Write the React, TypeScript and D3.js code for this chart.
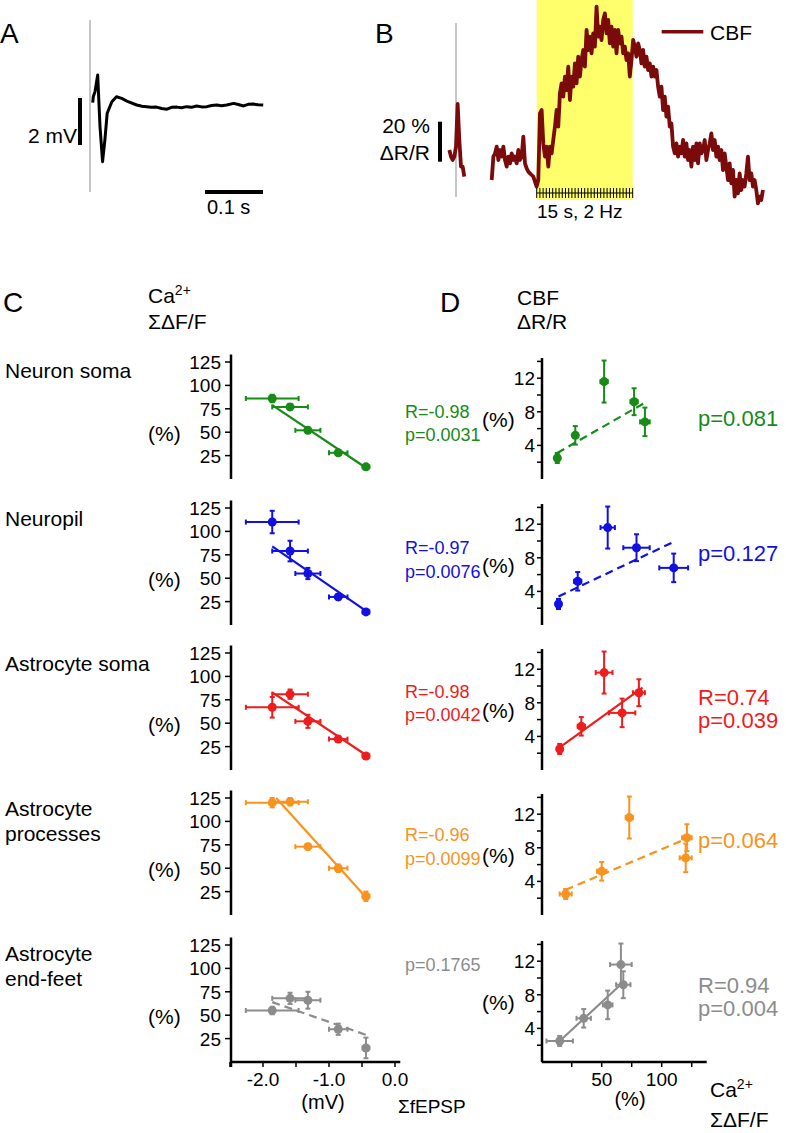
import React from "react";
import * as d3 from "d3";

const W = 786;
const H = 1133;
const FONT = "'Liberation Sans', Arial, Helvetica, sans-serif";

// ---- panel A: fEPSP trace (ms, mV)
const aTime = [0, 1, 4, 8.6, 10, 12.6, 17, 21, 25, 33, 41, 50, 61, 76, 85, 93, 101, 110, 119, 128, 136, 145, 153, 162, 170, 179, 188, 197, 205, 214, 222, 231, 243, 251, 260, 268, 277, 285, 294];
const aVolt = [0.1, 0.35, 0.57, 1.28, 0.5, -0.92, -2.41, -1.49, -0.35, 0.14, 0.35, 0.28, 0.14, 0.0, -0.05, -0.07, -0.1, -0.09, -0.15, -0.18, -0.1, -0.09, -0.12, -0.07, -0.1, -0.04, -0.08, -0.07, -0.02, 0.0, -0.03, 0.0, 0.07, 0.02, -0.04, 0.03, 0.04, 0.01, 0.0];

// ---- panel B: CBF trace (% dR/R), sampled every 0.26 s, two segments
const bDt = 0.26;
const bSeg1Start = -13.65;
const bSeg1 = [15, 11.7, 10, 11.7, 16.7, 38, 20, 6.7, 6.7, 1.7];
const bSeg2Start = -7.03;
const bSeg2 = [0, 11.7, 13.3, 16.7, 10, 15, 11.7, 16.7, 10, 6.7, 11.7, 8.3, 13.3, 10, 11.7, 8.3, 15, 10, 11.7, 21.7,
  8.3, 5.8, 4.2, 3.3, 2.5, 1.7, -0.8, -3.3, 0, 33.3, 35, 18.3, 11.7, 16.7, 6.7, 16.7, 13.3, 20, 26.7, 35,
  26.7, 43.3, 48.3, 41.7, 51.7, 45, 56.7, 40, 51.7, 46.7, 58.3, 48.3, 61.7, 51.7, 60, 65, 56.7, 75, 65, 71.7,
  63.3, 73.3, 66.7, 86.7, 71.7, 76.7, 70, 80, 83.3, 73.3, 80, 68.3, 76.7, 66.7, 75, 63.3, 75, 68.3, 71.7, 63.3,
  66.7, 60, 63.3, 51.7, 60, 70, 66.7, 61.7, 68.3, 65, 58.3, 65, 56.7, 61.7, 55, 58.3, 51.7, 56.7, 51.7, 55,
  46.7, 41.7, 46.7, 35, 41.7, 31.7, 36.7, 26.7, 28.3, 16.7, 13.3, 18.3, 11.7, 16.7, 13.3, 20, 11.7, 18.3, 10, 15,
  6.7, 16.7, 10, 18.3, 8.3, 18.3, 13.3, 15, 20, 10, 15, 18.3, 23.3, 15, 20, 11.7, 16.7, 10, 15, 5,
  13.3, 6.7, 0, 8.3, -1.7, 5, -8.3, 0, -6.7, 3.3, -5, 0, -3.3, 3.3, 11.7, 0, 3.3, -3.3, 0, -5,
  -11.7, -8.3, -10, -5];
const stimDuration = 15; // s
const stimRate = 2; // Hz

// ---- panels C/D
const rowNames = [["Neuron soma"], ["Neuropil"], ["Astrocyte soma"], ["Astrocyte", "processes"], ["Astrocyte", "end-feet"]];
const rowColors = ["#178a17", "#1010e0", "#ee1c1c", "#f7931e", "#8c8c8c"];

// shared per stimulation point
const fepsp = [-1.86, -1.59, -1.32, -0.86, -0.44];
const fepspErr = [0.4, 0.27, 0.19, 0.14, 0.05];
const cbf = [6.8, 9.2, 11.6, 5.2, 2.5];
const cbfErr = [1.7, 1.6, 2.5, 1.1, 0.6];

// Ca2+ sum dF/F (%) per compartment
const caNeuronSoma = [86, 77, 52, 28, 13];
const caNeuronSomaErr = [4, 3, 3, 2, 1];
const caNeuropil = [110, 79, 55, 30, 14];
const caNeuropilErr = [12, 11, 6, 3, 1.5];
const caAstroSoma = [67, 81, 52, 33, 15];
const caAstroSomaErr = [11, 5, 7, 3, 2];
const caAstroProc = [120, 121, 73, 50, 20];
const caAstroProcErr = [5, 4, 3, 4, 5];
const caEndFeet = [55, 68, 66, 35, 15];
const caEndFeetErr = [4, 6, 9, 6, 11];

// fitted lines: [x0, y0, x1, y1]
const fitC = [[-1.86, 79, -0.44, 12], [-1.86, 84, -0.44, 15], [-1.86, 83, -0.44, 16], [-1.8, 125, -0.44, 19], [-1.86, 64, -0.44, 29]];
const fitCDashed = [false, false, false, false, true];
const fitD = [[13, 3.1, 85, 9.0], [14, 3.4, 110, 9.9], [15, 2.7, 84, 9.8], [20, 3.0, 121, 9.1], [15, 2.5, 68, 9.5]];
const fitDDashed = [true, true, false, true, false];

const statsC = [["R=-0.98", "p=0.0031"], ["R=-0.97", "p=0.0076"], ["R=-0.98", "p=0.0042"], ["R=-0.96", "p=0.0099"], ["p=0.1765"]];
const statsD = [["p=0.081"], ["p=0.127"], ["R=0.74", "p=0.039"], ["p=0.064"], ["R=0.94", "p=0.004"]];

const caTicks = [25, 50, 75, 100, 125];
const cbfTicks = [2, 4, 6, 8, 10, 12, 14];
const cbfLabels = [4, 8, 12];
const mvTicks = [-2.5, -2, -1.5, -1, -0.5, 0];
const mvLabels = [-2, -1, 0];
const caXTicks = [25, 50, 75, 100, 125];
const caXLabels = [50, 100];

// layout
const rowBase = [479, 625, 770, 915, 1062];
const statYC = [[418, 441], [554, 578], [698, 721], [841, 865], [971]];
const statYD = [[426], [561], [705, 728], [848], [993, 1016]];
const rowLabelY = [[378], [526], [671], [816, 841], [961, 986]];

const xA = d3.scaleLinear().domain([0, 100]).range([92.7, 150.7]);
const yA = d3.scaleLinear().domain([0, 2]).range([105, 58]);
const xB = d3.scaleLinear().domain([0, stimDuration]).range([536.7, 632.7]);
const yB = d3.scaleLinear().domain([0, 20]).range([180, 140]);
const xC = d3.scaleLinear().domain([-2, 0]).range([263, 395]);
const xD = d3.scaleLinear().domain([0, 100]).range([541.7, 661.7]);
const yCFor = (b: number) => d3.scaleLinear().domain([0, 125]).range([b, b - 117]);
const yDFor = (b: number) => d3.scaleLinear().domain([0, 14]).range([b, b - 117.6]);

function ErrPoint({ x, y, x0, x1, y0, y1, color }: any) {
  const cap = 2.5;
  return (
    <g stroke={color} strokeWidth={2} fill="none">
      <line x1={x0} x2={x1} y1={y} y2={y} />
      <line x1={x0} x2={x0} y1={y - cap} y2={y + cap} />
      <line x1={x1} x2={x1} y1={y - cap} y2={y + cap} />
      <line x1={x} x2={x} y1={y0} y2={y1} />
      <line x1={x - cap} x2={x + cap} y1={y0} y2={y0} />
      <line x1={x - cap} x2={x + cap} y1={y1} y2={y1} />
      <circle cx={x} cy={y} r={4.5} fill={color} stroke="none" />
    </g>
  );
}

export default function App() {
  const caRows = [
    [caNeuronSoma, caNeuronSomaErr],
    [caNeuropil, caNeuropilErr],
    [caAstroSoma, caAstroSomaErr],
    [caAstroProc, caAstroProcErr],
    [caEndFeet, caEndFeetErr],
  ];

  const aLine = d3.line<number>().x((_, i) => xA(aTime[i])).y((v) => yA(v));
  const bLine = (start: number) => d3.line<number>().x((_, i) => xB(start + i * bDt)).y((v) => yB(v));
  const stimTicks = d3.range(0, stimDuration * stimRate + 1).map((k) => k / stimRate);

  const txt = { fontFamily: FONT, fill: "#000" };

  return (
    <svg width={W} height={H} style={{ position: "absolute", left: 0, top: 0, background: "#fff" }}>
      <rect width={W} height={H} fill="#fff" />
      {/* Panel letters */}
      <text x={0} y={43} fontSize={28} {...txt}>A</text>
      <text x={375} y={43} fontSize={28} {...txt}>B</text>
      <text x={3} y={312} fontSize={28} {...txt}>C</text>
      <text x={440} y={312} fontSize={28} {...txt}>D</text>

      {/* Panel A */}
      <line x1={90} x2={90} y1={20} y2={192} stroke="#c6c6c6" strokeWidth={2} />
      <path d={aLine(aVolt) || ""} fill="none" stroke="#000" strokeWidth={3} strokeLinejoin="round" />
      <line x1={80} x2={80} y1={98} y2={98 + (yA(0) - yA(2))} stroke="#000" strokeWidth={4} />
      <text x={77} y={143} fontSize={21} textAnchor="end" {...txt}>2 mV</text>
      <line x1={205} x2={205 + xA(100) - xA(0)} y1={192} y2={192} stroke="#000" strokeWidth={4} />
      <text x={207} y={213.5} fontSize={20} {...txt}>0.1 s</text>

      {/* Panel B */}
      <rect x={xB(0)} y={0} width={xB(stimDuration) - xB(0)} height={200} fill="#ffff6b" />
      <line x1={456} x2={456} y1={23} y2={197} stroke="#c6c6c6" strokeWidth={2} />
      <path d={bLine(bSeg1Start)(bSeg1) || ""} fill="none" stroke="#7b0a0a" strokeWidth={3.8} strokeLinejoin="round" />
      <path d={bLine(bSeg2Start)(bSeg2) || ""} fill="none" stroke="#7b0a0a" strokeWidth={3.8} strokeLinejoin="round" />
      <line x1={xB(0)} x2={xB(stimDuration)} y1={193} y2={193} stroke="#000" strokeWidth={1} />
      {stimTicks.map((t) => (
        <line key={t} x1={xB(t)} x2={xB(t)} y1={188} y2={198} stroke="#000" strokeWidth={1} />
      ))}
      <text x={537} y={218} fontSize={19} {...txt}>15 s, 2 Hz</text>
      <line x1={440} x2={440} y1={121.7} y2={121.7 + (yB(0) - yB(20))} stroke="#000" strokeWidth={4} />
      <text x={430} y={133} fontSize={21} textAnchor="end" {...txt}>20 %</text>
      <text x={430} y={160} fontSize={21} textAnchor="end" {...txt}>ΔR/R</text>
      <line x1={661.7} x2={703.3} y1={31.7} y2={31.7} stroke="#7b0a0a" strokeWidth={3.5} />
      <text x={710} y={40} fontSize={21} {...txt}>CBF</text>

      {/* Headers */}
      <text x={148} y={303} fontSize={21} {...txt}>Ca<tspan dy={-8} fontSize={14}>2+</tspan></text>
      <text x={148} y={329} fontSize={21} {...txt}>ΣΔF/F</text>
      <text x={517} y={305} fontSize={21} {...txt}>CBF</text>
      <text x={517} y={329} fontSize={21} {...txt}>ΔR/R</text>

      {rowNames.map((names, r) => {
        const base = rowBase[r];
        const yC = yCFor(base);
        const yD = yDFor(base);
        const color = rowColors[r];
        const [ca, caErr] = caRows[r];
        const last = r === rowNames.length - 1;
        const fc = fitC[r];
        const fd = fitD[r];
        return (
          <g key={r}>
            {names.map((n, k) => (
              <text key={k} x={5} y={rowLabelY[r][k]} fontSize={21} {...txt}>{n}</text>
            ))}
            {/* C axis */}
            <line x1={231} x2={231} y1={last ? base + 5 : base} y2={yC(133)} stroke="#000" strokeWidth={2.5} />
            {caTicks.map((t) => (
              <g key={t}>
                <line x1={225} x2={231} y1={yC(t)} y2={yC(t)} stroke="#000" strokeWidth={1.5} />
                <text x={221} y={yC(t) + 7} fontSize={19} textAnchor="end" {...txt}>{t}</text>
              </g>
            ))}
            <text x={148} y={base - 38} fontSize={21} {...txt}>(%)</text>
            {/* C fit + points */}
            <line x1={xC(fc[0])} y1={yC(fc[1])} x2={xC(fc[2])} y2={yC(fc[3])} stroke={color} strokeWidth={2.2}
              strokeDasharray={fitCDashed[r] ? "8,5" : undefined} />
            {fepsp.map((fx, i) => (
              <ErrPoint key={i} color={color} x={xC(fx)} y={yC(ca[i])}
                x0={xC(fx - fepspErr[i])} x1={xC(fx + fepspErr[i])}
                y0={yC(ca[i] - caErr[i])} y1={yC(ca[i] + caErr[i])} />
            ))}
            {statsC[r].map((s, k) => (
              <text key={k} x={405} y={statYC[r][k]} fontSize={18} fontFamily={FONT} fill={color}>{s}</text>
            ))}

            {/* D axis */}
            <line x1={542} x2={542} y1={base} y2={yD(14.4)} stroke="#000" strokeWidth={2.5} />
            {cbfTicks.map((t) => (
              <line key={t} x1={537} x2={542} y1={yD(t)} y2={yD(t)} stroke="#000" strokeWidth={1.5} />
            ))}
            {cbfLabels.map((t) => (
              <text key={t} x={535} y={yD(t) + 7} fontSize={19} textAnchor="end" {...txt}>{t}</text>
            ))}
            <text x={482} y={base - 52} fontSize={21} {...txt}>(%)</text>
            <line x1={xD(fd[0])} y1={yD(fd[1])} x2={xD(fd[2])} y2={yD(fd[3])} stroke={color} strokeWidth={2.2}
              strokeDasharray={fitDDashed[r] ? "8,5" : undefined} />
            {ca.map((cx, i) => (
              <ErrPoint key={i} color={color} x={xD(cx)} y={yD(cbf[i])}
                x0={xD(cx - caErr[i])} x1={xD(cx + caErr[i])}
                y0={yD(cbf[i] - cbfErr[i])} y1={yD(cbf[i] + cbfErr[i])} />
            ))}
            {statsD[r].map((s, k) => (
              <text key={k} x={698} y={statYD[r][k]} fontSize={22} fontFamily={FONT} fill={color}>{s}</text>
            ))}
          </g>
        );
      })}

      {/* C x axis */}
      <line x1={231} x2={xC(0.08)} y1={rowBase[4]} y2={rowBase[4]} stroke="#000" strokeWidth={2.5} />
      {mvTicks.map((t) => (
        <line key={t} x1={xC(t)} x2={xC(t)} y1={rowBase[4]} y2={rowBase[4] + 5} stroke="#000" strokeWidth={1.5} />
      ))}
      {mvLabels.map((t) => (
        <text key={t} x={xC(t)} y={1086} fontSize={19} textAnchor="middle" {...txt}>{d3.format(".1f")(t).replace("−", "-")}</text>
      ))}
      <text x={323} y={1109} fontSize={20} textAnchor="middle" {...txt}>(mV)</text>
      <text x={398} y={1113} fontSize={19} {...txt}>ΣfEPSP</text>

      {/* D x axis */}
      <line x1={541.7} x2={xD(137.5)} y1={rowBase[4]} y2={rowBase[4]} stroke="#000" strokeWidth={2.5} />
      {caXTicks.map((t) => (
        <line key={t} x1={xD(t)} x2={xD(t)} y1={rowBase[4]} y2={rowBase[4] + 5} stroke="#000" strokeWidth={1.5} />
      ))}
      {caXLabels.map((t) => (
        <text key={t} x={xD(t)} y={1086} fontSize={19} textAnchor="middle" {...txt}>{t}</text>
      ))}
      <text x={630} y={1106} fontSize={20} textAnchor="middle" {...txt}>(%)</text>
      <text x={710} y={1097} fontSize={21} {...txt}>Ca<tspan dy={-8} fontSize={14}>2+</tspan></text>
      <text x={710} y={1127} fontSize={21} {...txt}>ΣΔF/F</text>
    </svg>
  );
}
